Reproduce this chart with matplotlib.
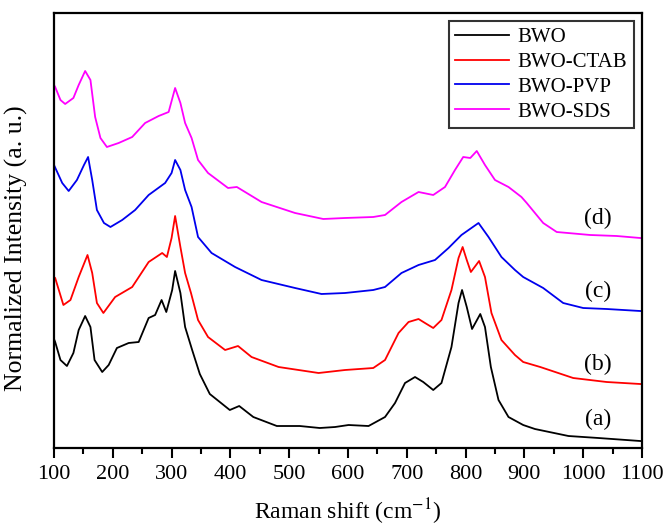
import numpy as np
import matplotlib
matplotlib.use("Agg")
import matplotlib.pyplot as plt
from matplotlib.ticker import MultipleLocator

plt.rcParams['font.family'] = ['Liberation Serif', 'DejaVu Serif']
plt.rcParams['mathtext.fontset'] = 'stix'

# Raman spectra (x: Raman shift, y: arbitrary intensity)
bwo_x = [100, 102, 111, 122, 133, 142, 153, 162, 169, 182, 193, 207, 227, 244, 261, 272, 283,
         291, 301, 306, 315, 323, 335, 348, 365, 399, 415, 439, 479, 518, 552, 578, 601, 635,
         663, 680, 697, 714, 728, 745, 759, 776, 788, 794, 802, 811, 825, 833, 843, 856, 873,
         898, 918, 975, 1026, 1097]
bwo_y = [109, 106, 88, 82, 95, 118, 132, 121, 88, 76, 83, 100, 105, 106, 130, 133, 148,
         136, 158, 177, 155, 121, 98, 74, 54, 38, 42, 31, 22, 22, 20, 21, 23, 22,
         31, 45, 65, 71, 66, 58, 65, 101, 145, 158, 141, 119, 134, 121, 81, 48, 31,
         23, 19, 12, 10, 7]

ctab_x = [100, 102, 116, 128, 142, 157, 165, 173, 184, 204, 233, 261, 284, 292, 300, 306, 315,
          323, 333, 345, 362, 391, 413, 436, 482, 550, 595, 643, 663, 686, 703, 720, 731, 745,
          759, 776, 788, 795, 802, 809, 823, 833, 844, 861, 884, 898, 927, 983, 1040, 1097]
ctab_y = [171, 170, 143, 148, 171, 193, 175, 145, 135, 151, 161, 186, 195, 191, 210, 232, 201,
          175, 155, 128, 111, 98, 102, 91, 81, 75, 78, 80, 88, 115, 126, 129, 125, 120,
          128, 158, 190, 201, 188, 176, 187, 171, 135, 108, 93, 86, 81, 70, 66, 64]

pvp_x = [100, 114, 125, 139, 151, 158, 165, 173, 185, 196, 216, 238, 261, 289, 300, 306, 315,
         323, 334, 345, 368, 408, 453, 510, 555, 595, 643, 663, 691, 720, 748, 771, 793, 822,
         839, 861, 884, 898, 932, 966, 1000, 1040, 1097]
pvp_y = [283, 265, 257, 268, 283, 291, 268, 238, 225, 221, 228, 238, 253, 265, 275, 288, 278,
         258, 241, 211, 195, 181, 168, 160, 154, 155, 158, 161, 175, 183, 188, 200, 213, 225,
         211, 191, 178, 171, 160, 145, 140, 139, 137]

sds_x = [100, 102, 111, 119, 133, 142, 153, 162, 170, 179, 190, 210, 233, 255, 278, 295, 306,
         315, 323, 334, 345, 362, 396, 411, 453, 510, 558, 595, 643, 663, 691, 720, 745, 765,
         782, 796, 808, 819, 833, 850, 873, 895, 904, 932, 955, 1012, 1057, 1097]
sds_y = [363, 361, 348, 344, 350, 363, 377, 368, 331, 310, 301, 305, 311, 325, 332, 336, 360,
         345, 325, 310, 288, 275, 260, 261, 246, 235, 229, 230, 231, 233, 246, 256, 253, 261,
         278, 291, 290, 297, 283, 268, 261, 251, 245, 225, 216, 213, 212, 210]

names = ['BWO', 'BWO-CTAB', 'BWO-PVP', 'BWO-SDS']
colors = ['black', '#ff0000', '#0000ee', '#ff00ff']
tags = ['(a)', '(b)', '(c)', '(d)']
tag_y = [29, 84, 157, 230]

fig = plt.figure(figsize=(6.69, 5.28), dpi=100)
ax = fig.add_axes([0.0807, 0.1515, 0.8789, 0.8239])

series = [(bwo_x, bwo_y), (ctab_x, ctab_y), (pvp_x, pvp_y), (sds_x, sds_y)]
for (xs, ys), name, c in zip(series, names, colors):
    ax.plot(xs, ys, color=c, lw=1.3, label=name)

for t, ty in zip(tags, tag_y):
    ax.text(1025, ty, t, fontsize=17, ha='center', va='center')

ax.set_xlim(100, 1100)
ax.set_ylim(0, 435)
ax.xaxis.set_major_locator(MultipleLocator(100))
ax.xaxis.set_minor_locator(MultipleLocator(50))
ax.set_yticks([])
ax.tick_params(axis='x', which='major', direction='out', length=7, width=1.5, labelsize=16, pad=5)
ax.tick_params(axis='x', which='minor', direction='out', length=4, width=1.5)
for sp in ax.spines.values():
    sp.set_linewidth(1.6)

ax.set_xlabel('Raman shift (cm$^{-1}$)', fontsize=17, labelpad=9)
ax.set_ylabel('Normalized Intensity (a. u.)', fontsize=18.5)
ax.yaxis.set_label_coords(-0.045, 0.46)

leg = ax.legend(loc='upper right', fontsize=15, frameon=True, fancybox=False,
                edgecolor='black', handlelength=2.6, borderaxespad=0.4,
                labelspacing=0.25, handletextpad=0.4, borderpad=0.3)
leg.get_frame().set_linewidth(1.5)

fig.savefig('out.png', dpi=100)
